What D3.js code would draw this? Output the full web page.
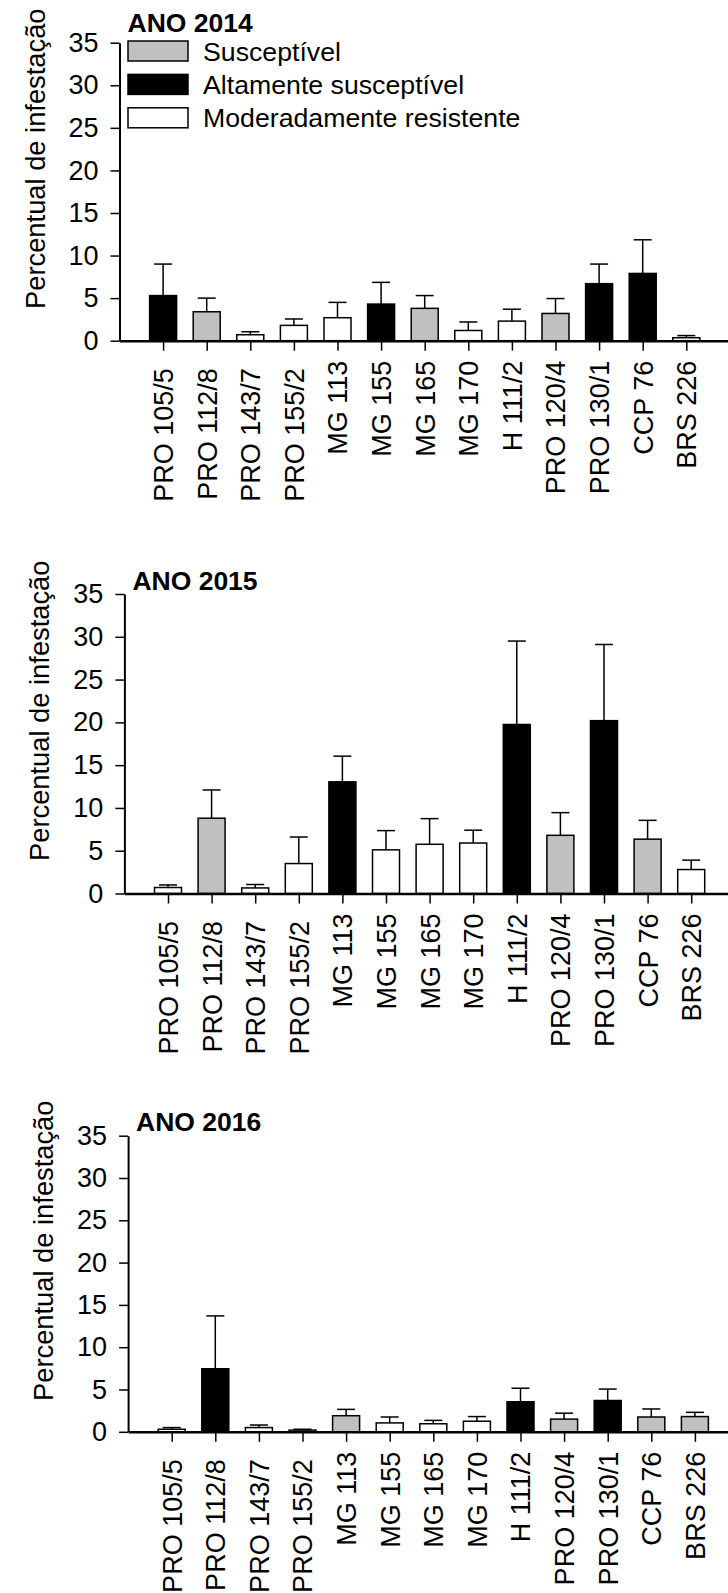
<!DOCTYPE html>
<html>
<head>
<meta charset="utf-8">
<script src="https://cdn.jsdelivr.net/npm/d3@7"></script>
<style>
  body { margin: 0; background: #fff; }
  svg text { font-family: "Liberation Sans", Arial, sans-serif; fill: #000; }
  .xlab { white-space: pre; }
</style>
</head>
<body>
<svg id="chart" width="728" height="1593"></svg>
<script>
// cultivares (os 4 primeiros vem com espaco no fim, como no original)
var categories = ["PRO 105/5 ", "PRO 112/8 ", "PRO 143/7 ", "PRO 155/2 ", "MG 113", "MG 155", "MG 165",
    "MG 170", "H 111/2", "PRO 120/4", "PRO 130/1", "CCP 76", "BRS 226"];
var yTicks = [0, 5, 10, 15, 20, 25, 30, 35];

// classes: S = susceptivel, A = altamente susceptivel, M = moderadamente resistente
var legendKeys = ["S", "A", "M"];
var legendLabels = ["Susceptível", "Altamente susceptível", "Moderadamente resistente"];

var years = ["ANO 2014", "ANO 2015", "ANO 2016"];

var mean2014 = [5.3, 3.4, 0.7, 1.8, 2.7, 4.3, 3.8, 1.2, 2.3, 3.2, 6.7, 7.9, 0.35];
var err2014 = [3.7, 1.6, 0.35, 0.75, 1.8, 2.55, 1.5, 1.0, 1.4, 1.75, 2.3, 3.95, 0.25];
var class2014 = ["A", "S", "M", "M", "M", "A", "S", "M", "M", "S", "A", "A", "M"];

var mean2015 = [0.7, 8.8, 0.65, 3.5, 13.05, 5.1, 5.75, 5.9, 19.75, 6.8, 20.2, 6.35, 2.8];
var err2015 = [0.3, 3.3, 0.4, 3.1, 3.0, 2.25, 3.0, 1.5, 9.75, 2.65, 8.9, 2.2, 1.1];
var class2015 = ["M", "S", "M", "M", "A", "M", "M", "M", "A", "S", "A", "S", "M"];

var mean2016 = [0.3, 7.45, 0.5, 0.2, 1.9, 1.05, 0.95, 1.25, 3.55, 1.5, 3.7, 1.75, 1.8];
var err2016 = [0.2, 6.25, 0.3, 0.1, 0.75, 0.7, 0.4, 0.55, 1.6, 0.7, 1.35, 0.95, 0.5];
var class2016 = ["M", "A", "M", "M", "S", "M", "M", "M", "A", "S", "A", "S", "S"];

var fills = { S: "#c0c0c0", A: "#000000", M: "#ffffff" };

var svg = d3.select("#chart");

// posicao de cada painel na pagina
var panels = [
    { title: years[0], mean: mean2014, err: err2014, cls: class2014, left: 119.5, top: 42.7, bottom: 340.7, titleGap: 11, legend: true },
    { title: years[1], mean: mean2015, err: err2015, cls: class2015, left: 124.4, top: 594, bottom: 893.5, titleGap: 4, legend: false },
    { title: years[2], mean: mean2016, err: err2016, cls: class2016, left: 128.1, top: 1135.7, bottom: 1431.8, titleGap: 5, legend: false }
];

var step = 43.6;
var barW = 27;

panels.forEach(function(p) {
    var g = svg.append("g");

    var x = d3.scaleLinear().domain([0, categories.length + 1]).range([p.left, p.left + step * (categories.length + 1)]);
    var y = d3.scaleLinear().domain([0, 35]).range([p.bottom, p.top]);

    // eixo y
    var yAxis = g.append("g")
        .attr("transform", "translate(" + p.left + ",0)")
        .call(d3.axisLeft(y).tickValues(yTicks).tickSize(9).tickSizeOuter(0).tickPadding(12));
    yAxis.select(".domain").attr("stroke-width", 2);
    yAxis.selectAll(".tick line").attr("stroke-width", 1.5);
    yAxis.selectAll(".tick text").attr("font-size", 27).attr("fill", "#000");

    // barras
    var data = p.mean.map(function(m, i) { return { i: i + 1, m: m, e: p.err[i], c: p.cls[i] }; });

    g.selectAll("line.err").data(data).enter().append("line")
        .attr("class", "err")
        .attr("x1", function(d) { return x(d.i); })
        .attr("x2", function(d) { return x(d.i); })
        .attr("y1", function(d) { return y(d.m); })
        .attr("y2", function(d) { return y(d.m + d.e); })
        .attr("stroke", "#000").attr("stroke-width", 1.5);
    g.selectAll("line.cap").data(data).enter().append("line")
        .attr("class", "cap")
        .attr("x1", function(d) { return x(d.i) - 9; })
        .attr("x2", function(d) { return x(d.i) + 9; })
        .attr("y1", function(d) { return y(d.m + d.e); })
        .attr("y2", function(d) { return y(d.m + d.e); })
        .attr("stroke", "#000").attr("stroke-width", 1.5);

    g.selectAll("rect.bar").data(data).enter().append("rect")
        .attr("class", "bar")
        .attr("x", function(d) { return x(d.i) - barW / 2; })
        .attr("width", barW)
        .attr("y", function(d) { return y(d.m); })
        .attr("height", function(d) { return y(0) - y(d.m); })
        .attr("fill", function(d) { return fills[d.c]; })
        .attr("stroke", "#000").attr("stroke-width", 1.5);

    // eixo x
    var xAxis = g.append("g")
        .attr("transform", "translate(0," + p.bottom + ")")
        .call(d3.axisBottom(x).tickValues(d3.range(1, categories.length + 1)).tickSize(10).tickSizeOuter(0)
            .tickFormat(function(d) { return categories[d - 1]; }));
    xAxis.select(".domain").attr("stroke-width", 2.5);
    xAxis.selectAll(".tick line").attr("stroke-width", 1.5);
    xAxis.selectAll(".tick text")
        .attr("class", "xlab")
        .attr("font-size", 27)
        .attr("fill", "#000")
        .attr("text-anchor", "end")
        .attr("transform", "rotate(-90)")
        .attr("x", -20)
        .attr("y", 0)
        .attr("dy", "0.35em");

    // titulo do ano
    g.append("text")
        .attr("x", p.left + 8)
        .attr("y", p.top - p.titleGap)
        .attr("font-size", 26.5)
        .attr("font-weight", "bold")
        .text(p.title);

    // rotulo do eixo y
    g.append("text")
        .attr("transform", "translate(" + (p.left - 75) + "," + ((p.top + p.bottom) / 2 - 33) + ") rotate(-90)")
        .attr("text-anchor", "middle")
        .attr("font-size", 27.3)
        .text("Percentual de infestação");

    if (p.legend) {
        var leg = g.selectAll("g.leg").data(legendKeys).enter().append("g")
            .attr("class", "leg")
            .attr("transform", function(d, i) { return "translate(128," + (41 + i * 33.4) + ")"; });
        leg.append("rect")
            .attr("width", 60).attr("height", 20)
            .attr("fill", function(d) { return fills[d]; })
            .attr("stroke", "#000").attr("stroke-width", 1.5);
        leg.append("text")
            .attr("x", 75).attr("y", 10).attr("dy", "0.36em")
            .attr("font-size", 26.7)
            .text(function(d, i) { return legendLabels[i]; });
    }
});
</script>
</body>
</html>
